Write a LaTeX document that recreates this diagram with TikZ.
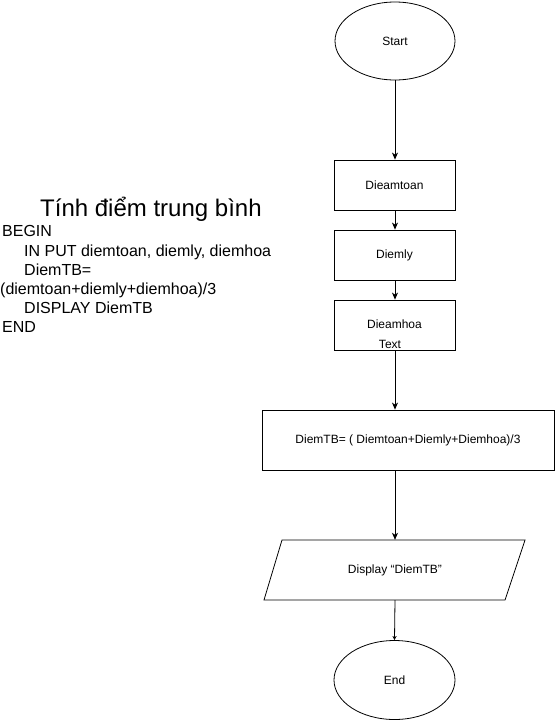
\documentclass[tikz,border=0pt]{standalone}
\usepackage{fontspec}
\setmainfont{Liberation Sans}
\usetikzlibrary{shapes.geometric,arrows.meta}
\begin{document}
\begin{tikzpicture}[x=1pt,y=-1pt,
  every node/.style={font=\fontsize{12}{14}\selectfont},
  term/.style={draw,ellipse,line width=0.8pt,minimum width=120pt,minimum height=78pt,inner sep=0pt},
  procbox/.style={draw,rectangle,line width=0.8pt,inner sep=0pt},
  flow/.style={line width=0.8pt,-{Stealth[length=7pt,width=6pt,inset=2pt]}},
  code/.style={anchor=base west,inner sep=0pt,font=\fontsize{16}{19}\selectfont}]
\useasboundingbox (0,0) rectangle (555,721);
\fill[white] (0,0) rectangle (555,721);
% left text
\node[code,font=\fontsize{24}{28}\selectfont] (title) at (40,216) {Tính điểm trung bình};
\node[code] (l1) at (2,236.5) {BEGIN};
\node[code] (l2) at (24,256) {IN PUT diemtoan, diemly, diemhoa};
\node[code] (l3) at (24,275) {DiemTB=};
\node[code] (l4) at (0,294) {(diemtoan+diemly+diemhoa)/3};
\node[code] (l5) at (24,313) {DISPLAY DiemTB};
\node[code] (l6) at (2,332) {END};
% flowchart
\node[term] (start) at (395,41) {Start};
\node[procbox,minimum width=121pt,minimum height=50pt] (b1) at (394.5,185) {Dieamtoan};
\node[procbox,minimum width=121pt,minimum height=50pt] (b2) at (394.5,255) {Diemly};
\node[procbox,minimum width=121pt,minimum height=50pt] (b3) at (394.5,325) {};
\node[inner sep=0pt] (b3t) at (394.5,324) {Dieamhoa};
\node[inner sep=0pt] (txt) at (390,344) {Text};
\node[procbox,minimum width=292pt,minimum height=60pt] (b4) at (408,440) {DiemTB= ( Diemtoan+Diemly+Diemhoa)/3};
\draw[line width=0.8pt] (282,540) -- (525,540) -- (505,600) -- (264,600) -- cycle;
\node[minimum width=200pt,minimum height=60pt,inner sep=0pt] (disp) at (395,570) {Display “DiemTB”};
\node[term,minimum width=121pt,minimum height=79pt] (end) at (394.5,680) {End};
\draw[flow] (start.south) -- (b1.north -| start.south);
\draw[flow] (b1.south -| start.south) -- (b2.north -| start.south);
\draw[flow] (b2.south -| start.south) -- (b3.north -| start.south);
\draw[flow] (b3.south -| start.south) -- (b4.north -| start.south);
\draw[flow] (b4.south -| start.south) -- (disp.north);
\draw[line width=0.8pt,-{Stealth[length=4pt,width=4pt,inset=1pt]}] (disp.south) -- (end.north);
\end{tikzpicture}
\end{document}
